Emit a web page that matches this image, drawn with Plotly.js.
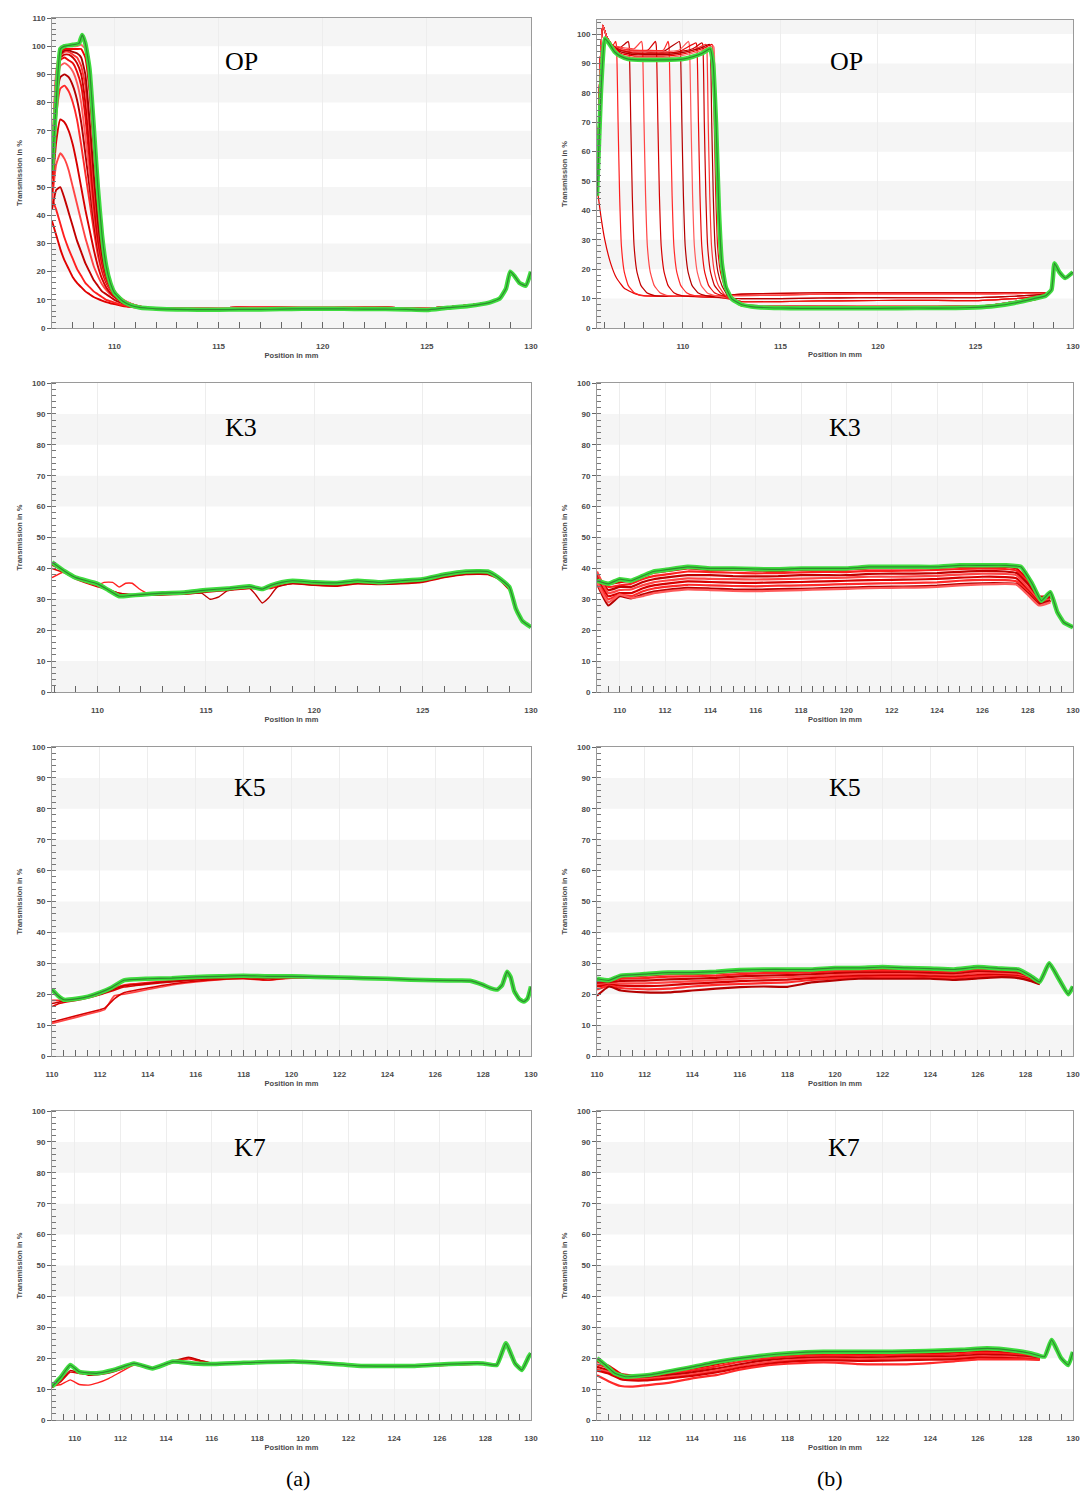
<!DOCTYPE html>
<html>
<head>
<meta charset="utf-8">
<script src="https://cdn.plot.ly/plotly-3.0.1.min.js"></script>
<style>html,body{margin:0;padding:0;background:#fff;}</style>
</head>
<body>
<div id="chart" style="width:1085px;height:1499px;"></div>
<script>
// ---------- OP, series (a) ----------
const opA_greenX = [107.0,107.2,107.4,107.6,108.0,108.3,108.45,108.6,108.8,109.0,109.2,109.4,109.6,109.8,110.0,110.4,110.8,111.2,111.6,112,113,114,115,116,117,118,119,120,121,122,123,124,125,126,127,128,128.5,128.8,129.0,129.2,129.45,129.75,130.0];
const opA_greenY = [56,80,99,100,100.5,101,104,101,92,72,50,33,22,16,12.5,9.5,8,7.3,7,6.8,6.6,6.5,6.5,6.6,6.6,6.7,6.8,6.8,6.8,6.7,6.7,6.6,6.4,7.2,7.8,9,10.5,14,20,18.5,16,15,20];
const opA_headX = [107.0,107.2,107.4,107.6,107.8,108.0,108.2,108.4,108.6,108.8,109.0,109.2,109.4,109.6,109.8,110.0,110.3,110.6,111.0,111.5];
const opA_tailX = [112,113,114,115,116,117,118,119,120,121,122,123,124,125,126,127,128,128.5];
const opA_tailY = [7.0,7.0,7.0,7.1,7.2,7.3,7.3,7.5,7.5,7.4,7.3,7.2,7.0,7.0,7.4,8.0,9.2,10.3];
const opA_redHeads = [
  [38,33,28,24,21,18,16,14.5,13,12,11,10.3,9.7,9.2,8.8,8.5,8,7.6,7.3,7],
  [46,42,37,32,28,24.5,21,18.5,16,14.5,13,12,11,10,9.5,9,8.3,7.8,7.4,7.1],
  [42,49,50,46,41,36,31,27,23,20,17,15,13,12,11,10,9,8.2,7.5,7.1],
  [45,58,62,60,56,50,44,38,32,27,22,18.5,15.5,13.5,12,11,9.5,8.5,7.6,7.1],
  [48,66,74,73,70,65,58,50,42,35,28,22,17.5,14.5,12.5,11,9.6,8.6,7.7,7.1],
  [50,75,85,86,84,80,74,65,55,45,35,26,20,16,13.5,11.8,10,8.8,7.8,7.1],
  [51,79,89,90,89,86,81,73,62,50,38,28,21,16.5,13.8,11.9,10.1,8.9,7.8,7.1],
  [52,82,93,94,93,91,87,80,68,55,41,30,22,17,14,12,10.2,9,7.9,7.2],
  [53,84,95,96,95,94,91,86,75,60,44,31,23,17.5,14.2,12.1,10.2,9,7.9,7.2],
  [55,86,96,97,97,96,94,90,80,64,47,33,24,18,14.5,12.3,10.3,9,7.9,7.2],
  [56,87,96.5,98,98,97,96,93,86,70,51,36,25,18.5,14.8,12.5,10.4,9.1,8,7.2],
  [57,88,97,98.5,98.5,98,97.5,96,90,74,55,38,26,19,15,12.6,10.4,9.1,8,7.2],
  [58,90,98,99,99,99,99,99,96,84,64,44,29,20.5,15.5,13,10.6,9.2,8,7.2],
  [59,91,99,100,100,100,100,100.5,99,90,70,48,31,21.5,16,13.2,10.7,9.3,8.1,7.2]
];

// ---------- OP, series (b) ----------
const opB_greenX = [105.6,105.8,106.0,106.2,106.5,106.8,107.2,108,109,110,110.5,111,111.4,111.55,111.7,111.85,112.0,112.2,112.5,113,113.5,114,115,116,118,120,122,124,125,126,127,128,128.6,128.9,129.05,129.3,129.6,130];
const opB_greenY = [45,80,98.5,97,94,92.5,91.5,91.2,91.2,91.5,92.3,93.5,95,90,70,40,22,14,10,8,7.3,7,6.8,6.7,6.7,6.7,6.8,6.8,7,7.5,8.5,10,11,13,22,19,17,19];
const opB_redX = [
  [105.6,105.8,106.0,106.3,106.6,107.0,107.5,108,109,110,111,112],
  [105.6,105.75,105.9,106.1,106.4,106.55,106.6,106.68,106.76,106.85,107.0,107.2,107.5,107.9,109,110.5,112],
  [105.6,105.75,105.9,106.1,106.4,106.8,107.2,107.25,107.33,107.41,107.5,107.65,107.85,108.15,108.55,109.5,111,112],
  [105.6,105.75,105.9,106.1,106.4,106.8,107.5,107.88,107.93,108.01,108.09,108.18,108.33,108.53,108.83,109.23,110.5,112],
  [105.6,105.75,105.9,106.1,106.4,106.8,107.5,108.2,108.59,108.64,108.72,108.8,108.89,109.04,109.24,109.54,109.94,111,112],
  [105.6,105.75,105.9,106.1,106.4,106.8,107.5,108.2,109.0,109.24,109.29,109.37,109.45,109.54,109.69,109.89,110.19,110.59,112],
  [105.6,105.75,105.9,106.1,106.4,106.8,107.5,108.2,109.0,109.82,109.87,109.95,110.03,110.12,110.27,110.47,110.77,111.17,112],
  [105.6,105.75,105.9,106.1,106.4,106.8,107.5,108.2,109.0,109.8,110.29,110.34,110.42,110.5,110.59,110.74,110.94,111.24,111.64,112.3],
  [105.6,105.75,105.9,106.1,106.4,106.8,107.5,108.2,109.0,109.8,110.67,110.72,110.8,110.88,110.97,111.12,111.32,111.62,112.02,112.5],
  [105.6,105.75,105.9,106.1,106.4,106.8,107.5,108.2,109.0,109.8,110.5,110.97,111.02,111.1,111.18,111.27,111.42,111.62,111.92,112.32],
  [105.6,105.75,105.9,106.1,106.4,106.8,107.5,108.2,109.0,109.8,110.5,111.17,111.22,111.3,111.38,111.47,111.62,111.82,112.12,112.52],
  [105.6,105.75,105.9,106.1,106.4,106.8,107.5,108.2,109.0,109.8,110.5,111.0,111.35,111.4,111.48,111.56,111.65,111.8,112.0,112.3,112.7],
  [105.6,105.75,105.9,106.1,106.4,106.8,107.5,108.2,109.0,109.8,110.5,111.0,111.48,111.53,111.61,111.69,111.78,111.93,112.13,112.43,112.8],
  [105.6,105.75,105.9,106.1,106.4,106.8,107.5,108.2,109.0,109.8,110.5,111.0,111.55,111.6,111.68,111.76,111.85,112.0,112.2,112.5,112.85]
];
const opB_redY = [
  [48,38,30,22,17,13.5,11.8,11,10.8,10.8,10.8,11],
  [46,88,103,99,96,97.5,96,70,45,28,19,14.5,12,11,10.8,10.8,11],
  [46,88,103,99,96,95.5,97.5,96,70,45,28,19,14.5,12,11,10.8,10.8,11],
  [46,88,103,99,96,95.5,95,97.5,96,70,45,28,19,14.5,12,11,10.8,11],
  [46,88,103,99,96,95,94.5,94.5,97.5,96,70,45,28,19,14.5,12,11,10.5,10.3],
  [46,88,103,99,96,95,94.5,94.5,94.5,97.5,96,70,45,28,19,14.5,12,11,10.3],
  [46,88,103,99,96,95,94,94,94,97.5,96,70,45,28,19,14.5,12,11,10.3],
  [46,88,103,99,96,95,94,94,94,94.5,97.5,96,70,45,28,19,14.5,12,11,10.3],
  [46,88,103,99,96,94.5,93.5,93.5,93.5,94,97,96,70,45,28,19,14.5,12,11,10],
  [46,88,103,99,96,94.5,93.5,93.5,93.5,94,95,97,96.5,70,45,28,19,14.5,12,10.5],
  [46,88,103,99,96,94,93,93,93,93.5,94.5,96.5,96,70,45,28,19,14.5,11.5,9.5],
  [46,88,103,99,96,94,93,93,93,93.5,94.5,95.5,96.5,96,70,45,28,19,14.5,11,9],
  [46,88,103,99,96,93.5,92.5,92.5,92.5,93,94,95,96.5,96,70,45,28,19,14.5,11,8.8],
  [46,88,103,99,96,93,92,92,92,92.5,93.5,94.5,96,95.5,70,45,28,19,14,10.5,8.5]
];
// floor levels after the edge, 113 mm onwards
const opB_tailX = [113,115,117,119,121,123,125,126,127,128,128.6];
const opB_tailHi  = [11.5,11.8,12,12,12,12,12,12,12,12,12];
const opB_tailHi2 = [11,11.2,11.5,11.6,11.6,11.6,11.6,11.6,11.7,11.8,11.8];
const opB_tailMid = [10,10,10.2,10.3,10.3,10.3,10.3,10.5,10.8,11.2,11.5];
const opB_tailMid2 = [9,9,9.2,9.3,9.4,9.4,9.3,9.6,10,10.6,11.2];
const opB_tailLo  = [8,7.5,7.5,7.6,7.6,7.6,7.5,8,9,10,11];
const opB_tailLo2 = [7.5,7,7,7,7,7,7,7.5,8.5,9.5,10.8];
const opB_tails = [opB_tailHi,opB_tailHi2,opB_tailHi,opB_tailHi2,opB_tailMid,opB_tailMid2,opB_tailMid,opB_tailMid2,opB_tailMid2,opB_tailLo,opB_tailLo2,opB_tailLo,opB_tailLo2,opB_tailLo];

// ---------- K3 ----------
const k3A_greenX = [107.9,108.5,109,110,110.5,111,111.5,112,113,114,115,116,117,117.6,118,118.5,119,120,121,122,123,124,125,126,127,128,128.5,129,129.3,129.6,130];
const k3A_greenY = [42,39,37,35,33,31,31.2,31.5,32,32.2,33,33.5,34.2,33.3,34.5,35.5,36,35.5,35.3,36,35.5,36,36.5,38,39,39,37,34,27,23,21];
const k3A_redX = [
  [107.9,108.5,109,110,110.5,111,111.5,112,113,114,115,116,117,118,118.5,119,120,121,122,123,124,125,126,127,128,128.5,129],
  [107.9,108.5,109,109.5,110,110.3,110.7,111,111.3,111.6,111.9,112.3,113,114,115,116,117,118,118.5,119,120,121,122,123,124,125,126,127,128,128.5,129],
  [107.9,108.5,109,110,111,112,113,114,114.8,115.2,115.6,116,117,117.3,117.6,117.9,118.3,119,120,121,122,123,124,125,126,127,128,128.5,129]
];
const k3A_redY = [
  [40,38.5,36.5,34,33,32,31.5,31.3,31.5,31.6,32.3,32.8,33.5,33.5,34.5,35,34.5,34.2,35,34.8,35,35.5,37,38,38,36.5,33],
  [37,39,37,35.5,34.5,35.5,35.5,34,35.2,35.2,33.5,32,31.8,32,32.6,33.2,33.8,33.7,35,35.4,34.8,34.6,35.3,35.1,35.4,35.8,37.4,38.4,38.3,36.8,33.3],
  [41,39,37,34.5,32,31.3,31.4,31.8,32,30,30.8,32.8,33.6,31.5,28.8,30.5,34,35.2,34.6,34.4,35.1,34.9,35.2,35.7,37.2,38.2,38.2,36.7,33.2]
];
const k3B_greenX = [109,109.5,110,110.5,111,111.5,112,113,114,115,116,117,118,119,120,121,122,123,124,125,126,127,127.7,128.2,128.6,129.0,129.3,129.6,130];
const k3B_greenY = [36,35,36.5,36,37.5,39,39.5,40.5,40,40,39.8,39.7,40,40,40,40.5,40.5,40.5,40.5,41,41,41,40.5,35,29.5,32.3,26,22.5,21];
const k3B_redX = [109,109.5,110,110.5,111,111.5,112,113,114,115,116,117,118,119,120,121,122,123,124,125,126,127,127.5,128,128.5,129];
const k3B_redY = [
  [36.5,35,35.5,36,37.5,38.5,39,40,39.5,39.5,39.3,39.2,39.5,39.6,39.6,40,40,40,40.2,40.5,40.5,40.5,40,36.5,31,31],
  [37,34,34.5,35,36.5,37.5,38,39,38.8,38.6,38.4,38.5,38.7,38.9,38.8,39.2,39.2,39.3,39.5,39.8,40,39.8,39.3,35.5,30,30.5],
  [38,33,34,34,35.5,36.5,37,37.8,37.8,37.5,37.4,37.5,37.8,37.8,37.8,38.2,38.3,38.3,38.5,38.9,39.2,39,38.5,35,30,30.5],
  [39,32,33,33.2,34.5,35.5,36,36.8,36.6,36.5,36.4,36.5,36.7,36.9,37,37.3,37.3,37.4,37.6,38,38.3,38.2,37.8,34,29.5,30],
  [37,31,32,32,33.5,34.5,35,35.8,35.6,35.4,35.3,35.5,35.6,35.8,36,36.2,36.3,36.4,36.6,37,37.3,37.2,36.8,33,29,29.5],
  [36,30,31.5,31,32.5,33.5,34,34.7,34.5,34.3,34.2,34.4,34.5,34.7,34.9,35.1,35.2,35.3,35.5,36,36.3,36.2,35.8,32.5,28.5,29.5],
  [35,28,31,30.3,31.5,32.5,33,33.7,33.5,33.2,33.1,33.3,33.4,33.6,33.8,34,34.1,34.2,34.4,34.9,35.2,35.2,35,32,28.5,29.5],
  [35.5,29,31.5,30.5,31,32,32.5,33.2,33,32.7,32.6,32.8,33,33.2,33.4,33.6,33.7,33.8,34,34.5,34.8,35,34.8,31.5,28,29]
];

// ---------- K5 ----------
const k5A_greenX = [110,110.25,110.5,111,111.5,112,112.5,113,114,115,116,117,118,119,120,121,122,123,124,125,126,127,127.5,128,128.3,128.6,128.8,129,129.15,129.3,129.5,129.7,129.85,130];
const k5A_greenY = [21.5,19.5,18.2,18.5,19.2,20.5,22.2,24.5,25,25.2,25.6,25.8,26,25.8,25.8,25.6,25.4,25.2,25,24.7,24.5,24.4,24.3,23,22,21.5,23,27.3,25.5,21,18.5,17.6,18.5,22.5];
const k5A_redX = [
  [110,110.3,110.6,111,111.5,112,112.5,113,113.5,114,115,116,117,118,119,120,121,122,123],
  [110,110.3,110.6,111,111.5,112,112.5,113,113.5,114,115,116,117,118,119,120,121,122,123],
  [110,110.3,110.6,111,111.5,112,112.5,113,113.5,114,115,116,117,118,119,120,121,122,123],
  [110,111,112,112.2,112.6,113,114,115,116,117,118,119,120,121,122,123],
  [110,111,112,112.2,112.6,113,114,115,116,117,118,119,120,121,122,123]
];
const k5A_redY = [
  [16,17,17.5,18,18.8,19.8,21,22.3,22.8,23.2,24,24.6,25,25.3,25.2,25.5,25.4,25.3,25.2],
  [18,18,18,18.5,19.2,20.3,21.8,23,23.4,23.8,24.4,24.9,25.2,25.5,25.3,25.6,25.5,25.4,25.2],
  [17,17.5,17.8,18.2,19,20,21.4,22.7,23.1,23.5,24.2,24.8,25.1,25.4,25.2,25.5,25.4,25.3,25.2],
  [10.5,12.5,14.5,15,19.5,20,21.5,23,24,24.7,25,24.5,25.2,25.3,25.3,25.2],
  [11,13,15,15.5,18.5,20.5,22,23.3,24.2,24.8,25.1,24.6,25.3,25.4,25.3,25.2]
];
const k5B_greenX = [110,110.5,111,112,113,114,115,116,117,118,119,120,121,122,123,124,125,126,127,127.7,128.2,128.6,129,129.4,129.8,130];
const k5B_greenY = [25,24.5,26,26.5,27,27,27.3,27.8,28,28,28,28.5,28.5,28.8,28.5,28.3,28,28.8,28.3,28,26,24,30,25,20,22.5];
const k5B_redX = [110,110.5,111,112,113,114,115,116,117,118,119,120,121,122,123,124,125,126,127,127.7,128.2,128.6];
const k5B_redY = [
  [24.5,24,25.5,26,26.5,26.5,26.8,27.3,27.5,27.5,27.6,28,28,28.2,28,27.8,27.6,28.3,27.8,27.5,25.8,24],
  [24,23.8,25,25.2,25.7,25.8,26,26.5,26.8,26.9,27,27.4,27.5,27.6,27.5,27.3,27.1,27.8,27.4,27.1,25.5,23.8],
  [23.5,23.5,24.3,24.4,24.8,25,25.3,25.8,26,26.2,26.4,26.8,27,27,27,26.8,26.6,27.3,27,26.7,25.2,23.6],
  [23,23.3,23.5,23.5,23.8,24.2,24.6,25,25.3,25.5,25.8,26.2,26.4,26.5,26.5,26.3,26.1,26.8,26.6,26.3,25,23.5],
  [22.5,23,22.8,22.6,22.9,23.4,23.8,24.2,24.5,24.7,25.2,25.6,25.9,26,26,25.8,25.6,26.2,26.2,25.9,24.8,23.4],
  [21.5,22.8,22,21.6,21.8,22.5,23,23.3,23.6,23.8,24.6,25.1,25.4,25.5,25.5,25.3,25.1,25.7,25.8,25.5,24.5,23.3],
  [19.5,22.5,21.2,20.6,20.6,21.2,21.8,22.3,22.5,22.4,23.8,24.5,25,25,25,25,24.6,25.1,25.5,25.2,24.3,23.2]
];

// ---------- K7 ----------
const k7A_greenX = [109,109.4,109.8,110.2,110.95,111.7,112.6,113.4,114.3,115.2,116.1,117.4,119.6,121.1,122.6,124.9,126.4,127.9,128.5,128.9,129.3,129.6,129.9,130];
const k7A_greenY = [10.8,14,17.8,15.6,15.1,16.2,18.3,16.7,18.9,18.3,18.1,18.5,18.9,18.3,17.5,17.5,18.1,18.3,17.8,24.8,18.3,16.2,20.5,21.6];
const k7A_redX = [109,109.4,109.8,110.2,110.6,111,111.5,112,112.6,113.4,114.3,115,115.5,116.1,117.4,119.6,121.1,122.6,124.9,126.4,127.5];
const k7A_redY = [
  [10.5,12.5,15.5,15,14.8,15,15.5,16.5,18,16.8,18.8,19.8,19,18.3,18.4,18.7,18.1,17.3,17.3,17.8,18],
  [11,11.5,13,11.5,11.3,12,13.5,15.5,17.8,16.6,18.5,20,19.2,18.2,18.3,18.7,18.2,17.4,17.3,17.7,18],
  [11,13,16,15.3,14.5,14.6,15.2,16.3,18.2,16.7,19,20.3,19.3,18.4,18.3,18.8,18.2,17.4,17.4,17.9,18.1]
];
const k7B_greenX = [110,110.4,110.75,111.2,112.2,113.7,115.1,116.6,118.1,119.5,122.4,125.3,126.4,127.5,128.2,128.8,129.1,129.5,129.8,130];
const k7B_greenY = [20,17.5,15.1,14,14.6,16.7,18.9,20.5,21.6,22.1,22.1,22.7,23.2,22.5,21.6,20.5,25.9,20,17.8,22];
const k7B_redX = [110,110.5,111,111.5,112,113,114,115,116,117,118,119,120,121,122,123,124,125,126,127,128,128.6];
const k7B_redY = [
  [19,17.5,15,14.3,14.5,15.5,16.6,18,19.5,20.5,21,21.3,21.4,21.4,21.4,21.5,21.5,21.8,22.3,22,21.3,20.2],
  [18,16.8,14.5,14,14,15,16,17.3,18.8,19.8,20.5,20.8,20.9,20.8,20.9,21,21,21.2,21.7,21.5,20.9,20],
  [17.2,16,14,13.6,13.6,14.5,15.4,16.6,18,19.2,19.9,20.2,20.3,20.2,20.3,20.5,20.5,20.6,21.1,21,20.5,19.8],
  [16.5,15.5,13.5,13.2,13.2,14,14.8,16,17.4,18.6,19.3,19.7,19.8,19.7,19.8,20,20,20.1,20.6,20.5,20.1,19.6],
  [16,15,13.2,12.8,12.8,13.5,14.3,15.4,16.9,18,18.8,19.2,19.3,19.1,19.2,19.4,19.5,19.6,20.2,20.1,19.8,19.5],
  [14.5,12.5,11,10.8,11.2,12,13.5,14.5,16.3,17.5,18.2,18.6,18.6,18.1,18,18,18.4,19,19.6,19.6,19.6,19.5]
];

const panelLabels = ['OP','OP','K3','K3','K5','K5','K7','K7'];
const columnLabels = ['(a)','(b)'];

// ---------- drawing ----------
const W = 1085, H = 1499;
const redPalette = ['#e00000','#ff1f1f','#c20000','#ff4545','#d60000','#ff2a2a','#b50000','#ff5a5a','#ea0a0a','#cc0000','#ff3535','#a80000','#f20000','#ff6a6a'];
const traces = [];
const ax = n => (n === 1 ? '' : String(n));

function red(n, xs, ys, i, width) {
  traces.push({type:'scatter', mode:'lines', x:xs, y:ys, xaxis:'x'+ax(n), yaxis:'y'+ax(n),
    line:{color:redPalette[i % redPalette.length], width:width, shape:'spline', smoothing:0.4},
    hoverinfo:'skip', showlegend:false});
}
function green(n, xs, ys) {
  traces.push({type:'scatter', mode:'lines', x:xs, y:ys, xaxis:'x'+ax(n), yaxis:'y'+ax(n),
    line:{color:'#3fdc3f', width:4.5, shape:'spline', smoothing:0.4}, hoverinfo:'skip', showlegend:false});
  traces.push({type:'scatter', mode:'lines', x:xs, y:ys, xaxis:'x'+ax(n), yaxis:'y'+ax(n),
    line:{color:'#2f8a2f', width:1.2, shape:'spline', smoothing:0.4}, hoverinfo:'skip', showlegend:false});
}

// OP (a)
opA_redHeads.forEach((h, i) => red(1, opA_headX.concat(opA_tailX), h.concat(opA_tailY), i, 1.9));
green(1, opA_greenX, opA_greenY);
// OP (b)
opB_redX.forEach((xs, i) => red(2, xs.concat(opB_tailX), opB_redY[i].concat(opB_tails[i]), i, 1.2));
green(2, opB_greenX, opB_greenY);
// K3
k3A_redX.forEach((xs, i) => red(3, xs, k3A_redY[i], i, 1.4));
green(3, k3A_greenX, k3A_greenY);
k3B_redY.forEach((ys, i) => red(4, k3B_redX, ys, i, 2.2));
green(4, k3B_greenX, k3B_greenY);
// K5
k5A_redX.forEach((xs, i) => red(5, xs, k5A_redY[i], i, 1.6));
green(5, k5A_greenX, k5A_greenY);
k5B_redY.forEach((ys, i) => red(6, k5B_redX, ys, i, 2.2));
green(6, k5B_greenX, k5B_greenY);
// K7
k7A_redY.forEach((ys, i) => red(7, k7A_redX, ys, i, 1.4));
green(7, k7A_greenX, k7A_greenY);
k7B_redY.forEach((ys, i) => red(8, k7B_redX, ys, i, 2.2));
green(8, k7B_greenX, k7B_greenY);

// plot frames in page pixels: [left, right] per column, [top, bottom] per row
const colPx = [[52, 531], [597, 1073]];
const rowPx = [[18, 328], [383, 692], [747, 1056], [1111, 1420]];
const axisCfg = [
  {xr:[107,130],   yr:[0,110],   dt:5, mn:1},
  {xr:[105.6,130], yr:[0,104.8], dt:5, mn:1},
  {xr:[107.9,130], yr:[0,100],   dt:5, mn:1},
  {xr:[109,130],   yr:[0,100],   dt:2, mn:0.5},
  {xr:[110,130],   yr:[0,100],   dt:2, mn:0.5},
  {xr:[110,130],   yr:[0,100],   dt:2, mn:0.5},
  {xr:[109,130],   yr:[0,100],   dt:2, mn:0.5},
  {xr:[110,130],   yr:[0,100],   dt:2, mn:0.5}
];
const tickFont = {family:'Liberation Sans, Arial, sans-serif', size:8, color:'#4a4a4a', weight:'bold'};
const titleFont = {family:'Liberation Sans, Arial, sans-serif', size:7.5, color:'#4a4a4a', weight:'bold'};
const layout = {width:W, height:H, margin:{l:0,r:0,t:0,b:0}, paper_bgcolor:'#fff', plot_bgcolor:'#fff',
  showlegend:false, shapes:[], annotations:[]};

axisCfg.forEach((c, k) => {
  const n = k + 1, col = k % 2, row = Math.floor(k / 2);
  let top = rowPx[row][0];
  if (k === 1) top = 20;
  const xd = [colPx[col][0] / W, colPx[col][1] / W];
  const yd = [1 - rowPx[row][1] / H, 1 - top / H];
  layout['xaxis' + ax(n)] = {
    domain:xd, range:c.xr, anchor:'y' + ax(n), tick0:110, dtick:c.dt,
    ticks:'inside', ticklen:6, tickcolor:'#666', tickwidth:1,
    showline:true, mirror:true, linecolor:'#9a9a9a', linewidth:1,
    showgrid:true, gridcolor:'#ededed', gridwidth:1, zeroline:false,
    tickfont:tickFont, ticklabelstandoff:10,
    minor:{dtick:c.mn, tick0:110, ticks:'inside', ticklen:6, tickcolor:'#666', showgrid:false},
    title:{text:'Position in mm', font:titleFont, standoff:2}, fixedrange:true
  };
  layout['yaxis' + ax(n)] = {
    domain:yd, range:c.yr, anchor:'x' + ax(n), tick0:0, dtick:10,
    ticks:'outside', ticklen:4, tickcolor:'#666', tickwidth:1,
    showline:true, mirror:true, linecolor:'#9a9a9a', linewidth:1,
    showgrid:false, zeroline:false, tickfont:tickFont,
    minor:{dtick:2, ticks:'inside', ticklen:4, tickcolor:'#777', showgrid:false},
    title:{text:'Transmission in %', font:titleFont, standoff:8}, fixedrange:true
  };
  // alternating light background bands every 10 %
  for (let v = 0; v < c.yr[1]; v += 20) {
    layout.shapes.push({type:'rect', xref:'x' + ax(n) + ' domain', yref:'y' + ax(n),
      x0:0, x1:1, y0:v, y1:Math.min(v + 10, c.yr[1]), fillcolor:'#f5f5f5', line:{width:0}, layer:'below'});
  }
});

// sample labels inside each panel
const labelPos = [[241, 61], [846, 61], [241, 427], [845, 427], [250, 787], [845, 787], [250, 1147], [844, 1147]];
panelLabels.forEach((t, k) => {
  layout.annotations.push({text:t, xref:'paper', yref:'paper', x:labelPos[k][0] / W, y:1 - labelPos[k][1] / H,
    showarrow:false, xanchor:'center', yanchor:'middle',
    font:{family:'Liberation Serif, Times New Roman, serif', size:26, color:'#000'}});
});
const colLabelPos = [[298, 1478], [830, 1478]];
columnLabels.forEach((t, k) => {
  layout.annotations.push({text:t, xref:'paper', yref:'paper', x:colLabelPos[k][0] / W, y:1 - colLabelPos[k][1] / H,
    showarrow:false, xanchor:'center', yanchor:'middle',
    font:{family:'Liberation Serif, Times New Roman, serif', size:22, color:'#000'}});
});

Plotly.newPlot('chart', traces, layout, {staticPlot:true, displayModeBar:false});
</script>
</body>
</html>
